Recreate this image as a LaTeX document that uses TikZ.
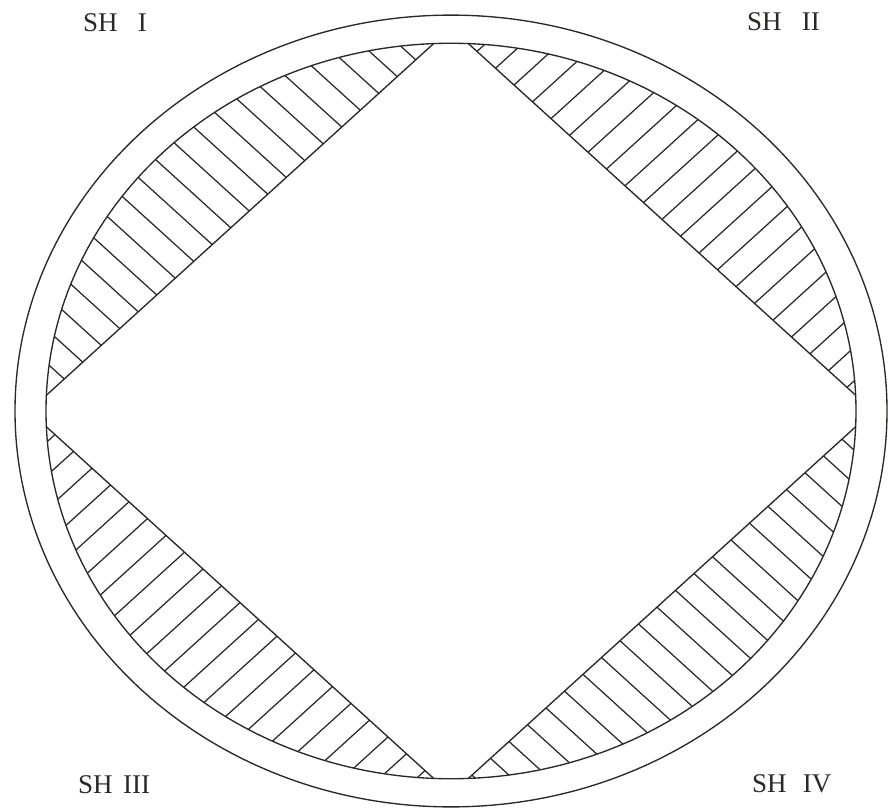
\documentclass[tikz,border=0pt]{standalone}
\usepackage{fontspec}
\setmainfont{Liberation Serif}
\definecolor{ink}{RGB}{45,40,40}
\tikzset{
  ring/.style={draw=ink, line width=1.35pt},
  hatchline/.style={draw=ink, line width=1.25pt},
  shlabel/.style={anchor=base west, inner sep=0pt, text=ink, font=\fontsize{27}{31}\selectfont}
}
\begin{document}
\begin{tikzpicture}[x=1pt,y=-1pt]
\useasboundingbox (0,0) rectangle (888,810);
\fill[white] (0,0) rectangle (888,810);
\begin{scope}[shift={(451,411)}, yscale=-0.908]
  \def\d{422}
  \draw[ring] (0,0) circle (436);
  \begin{scope}
    \clip (0,0) circle (405);
    \draw[ring] (-\d,0) -- (0,\d) -- (\d,0) -- (0,-\d) -- cycle;
    % upper left
    \begin{scope}
      \clip (-\d,0) -- (0,\d) -- (0,450) -- (-450,450) -- (-450,0) -- cycle;
      \foreach \k in {-12,...,12}{
        \pgfmathsetmacro{\c}{18.5+37*\k}
        \draw[hatchline] ({\c/2-300},{\c/2+300}) -- ({\c/2+300},{\c/2-300});
      }
    \end{scope}
    % upper right
    \begin{scope}
      \clip (0,\d) -- (\d,0) -- (450,0) -- (450,450) -- (0,450) -- cycle;
      \foreach \k in {-12,...,12}{
        \pgfmathsetmacro{\c}{37*\k}
        \draw[hatchline] ({-\c/2-300},{\c/2-300}) -- ({-\c/2+300},{\c/2+300});
      }
    \end{scope}
    % lower left
    \begin{scope}
      \clip (-\d,0) -- (0,-\d) -- (0,-450) -- (-450,-450) -- (-450,0) -- cycle;
      \foreach \k in {-12,...,12}{
        \pgfmathsetmacro{\c}{37*\k}
        \draw[hatchline] ({-\c/2-300},{\c/2-300}) -- ({-\c/2+300},{\c/2+300});
      }
    \end{scope}
    % lower right
    \begin{scope}
      \clip (0,-\d) -- (\d,0) -- (450,0) -- (450,-450) -- (0,-450) -- cycle;
      \foreach \k in {-12,...,12}{
        \pgfmathsetmacro{\c}{-10+37*\k}
        \draw[hatchline] ({\c/2-300},{\c/2+300}) -- ({\c/2+300},{\c/2-300});
      }
    \end{scope}
  \end{scope}
  \draw[ring] (0,0) circle (405);
\end{scope}
\node[shlabel] (sh1) at (83,32) {SH\hspace{0.75em}I};
\node[shlabel] (sh2) at (747,31) {SH\hspace{0.75em}II};
\node[shlabel] (sh3) at (78,793) {SH\hspace{0.39em}III};
\node[shlabel] (sh4) at (752,792) {SH\hspace{0.6em}IV};
\end{tikzpicture}
\end{document}
